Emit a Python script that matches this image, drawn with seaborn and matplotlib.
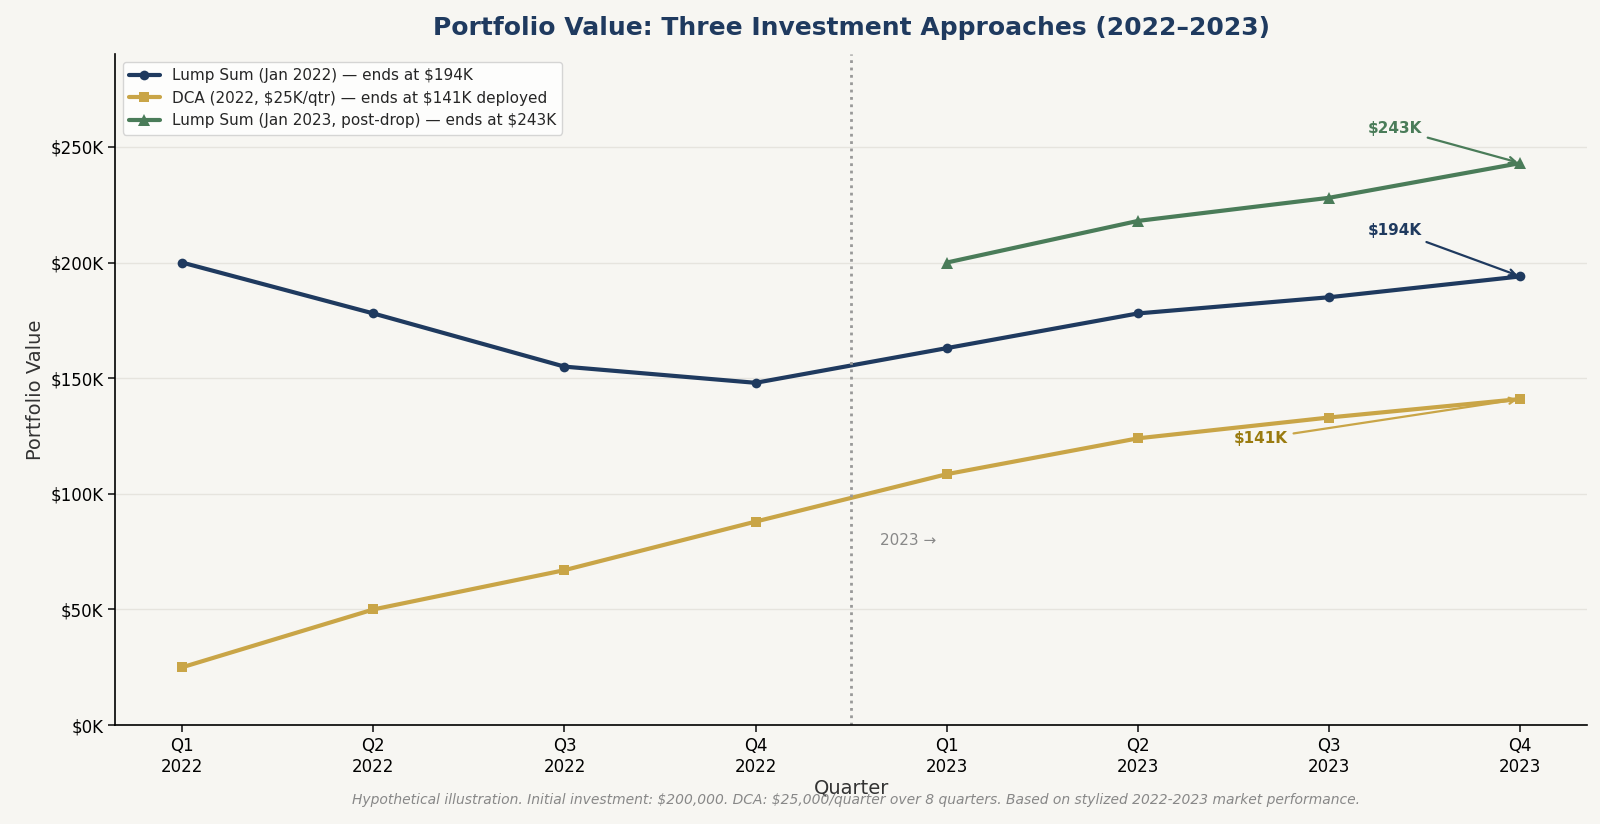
import matplotlib
matplotlib.use("Agg")
import matplotlib.pyplot as plt
import seaborn as sns
import pandas as pd
from matplotlib.ticker import FuncFormatter

quarters = ["Q1\n2022", "Q2\n2022", "Q3\n2022", "Q4\n2022", "Q1\n2023", "Q2\n2023", "Q3\n2023", "Q4\n2023"]
lump2022 = [200, 178, 155, 148, 163, 178, 185, 194]
dca = [25, 50, 67, 88, 108.5, 124, 133, 141]
lump2023 = [200, 218, 228, 243]

bg = "#f7f6f2"
navy, gold, green = "#1f3a5f", "#c9a547", "#4a7c59"

sns.set_theme(style="white")
plt.rcParams['font.family'] = ['DejaVu Sans']
plt.rcParams['text.parse_math'] = False
fig, ax = plt.subplots(figsize=(16, 8.24), dpi=100)
fig.patch.set_facecolor(bg)
ax.set_facecolor(bg)

x = list(range(len(quarters)))
df1 = pd.DataFrame({"x": x, "v": [v * 1000 for v in lump2022]})
df2 = pd.DataFrame({"x": x, "v": [v * 1000 for v in dca]})
df3 = pd.DataFrame({"x": x[4:], "v": [v * 1000 for v in lump2023]})

sns.lineplot(data=df1, x="x", y="v", ax=ax, color=navy, lw=3, marker="o", markersize=7, markeredgewidth=0,
             label="Lump Sum (Jan 2022) — ends at $194K")
sns.lineplot(data=df2, x="x", y="v", ax=ax, color=gold, lw=3, marker="s", markersize=7, markeredgewidth=0,
             label="DCA (2022, $25K/qtr) — ends at $141K deployed")
sns.lineplot(data=df3, x="x", y="v", ax=ax, color=green, lw=3, marker="^", markersize=8, markeredgewidth=0,
             label="Lump Sum (Jan 2023, post-drop) — ends at $243K")

ax.axvline(3.5, color="#999999", ls=":", lw=2)
ax.text(3.65, 78000, "2023 →", color="#888888", fontsize=11)

ax.annotate("$243K", xy=(7, 243000), xytext=(6.2, 256000), color=green, fontsize=11, fontweight="bold",
            arrowprops=dict(arrowstyle="->", color=green, lw=1.6))
ax.annotate("$194K", xy=(7, 194000), xytext=(6.2, 212000), color=navy, fontsize=11, fontweight="bold",
            arrowprops=dict(arrowstyle="->", color=navy, lw=1.6))
ax.annotate("$141K", xy=(7, 141000), xytext=(5.5, 122000), color="#9a7b10", fontsize=11, fontweight="bold",
            arrowprops=dict(arrowstyle="->", color=gold, lw=1.6))

ax.set_xlim(-0.35, 7.35)
ax.set_ylim(0, 290000)
ax.set_xticks(x)
ax.set_xticklabels(quarters, fontsize=12, color="black")
ax.set_yticks(range(0, 250001, 50000))
ax.yaxis.set_major_formatter(FuncFormatter(lambda v, p: f"${v/1000:.0f}K"))
ax.tick_params(axis="y", labelsize=12, left=True, length=5, labelcolor="black")
ax.tick_params(axis="x", bottom=True, length=5)
ax.yaxis.grid(True, color="#e6e4de", lw=1)
ax.set_xlabel("Quarter", fontsize=14, color="#333333", labelpad=2)
ax.set_ylabel("Portfolio Value", fontsize=14, color="#333333")
for s in ["top", "right"]:
    ax.spines[s].set_visible(False)
for s in ["left", "bottom"]:
    ax.spines[s].set_color("black")
    ax.spines[s].set_linewidth(1.2)

ax.legend(loc="upper left", fontsize=11, frameon=True, facecolor="white", edgecolor="#cccccc")

ax.set_title("Portfolio Value: Three Investment Approaches (2022–2023)", fontsize=18, fontweight="bold",
             color=navy, pad=14)
fig.text(0.535, 0.024, "Hypothetical illustration. Initial investment: $200,000. DCA: $25,000/quarter over 8 quarters. Based on stylized 2022-2023 market performance.",
         ha="center", fontsize=10, style="italic", color="#888888")

fig.subplots_adjust(left=0.072, right=0.992, top=0.934, bottom=0.12)
fig.savefig("out.png", facecolor=bg)
